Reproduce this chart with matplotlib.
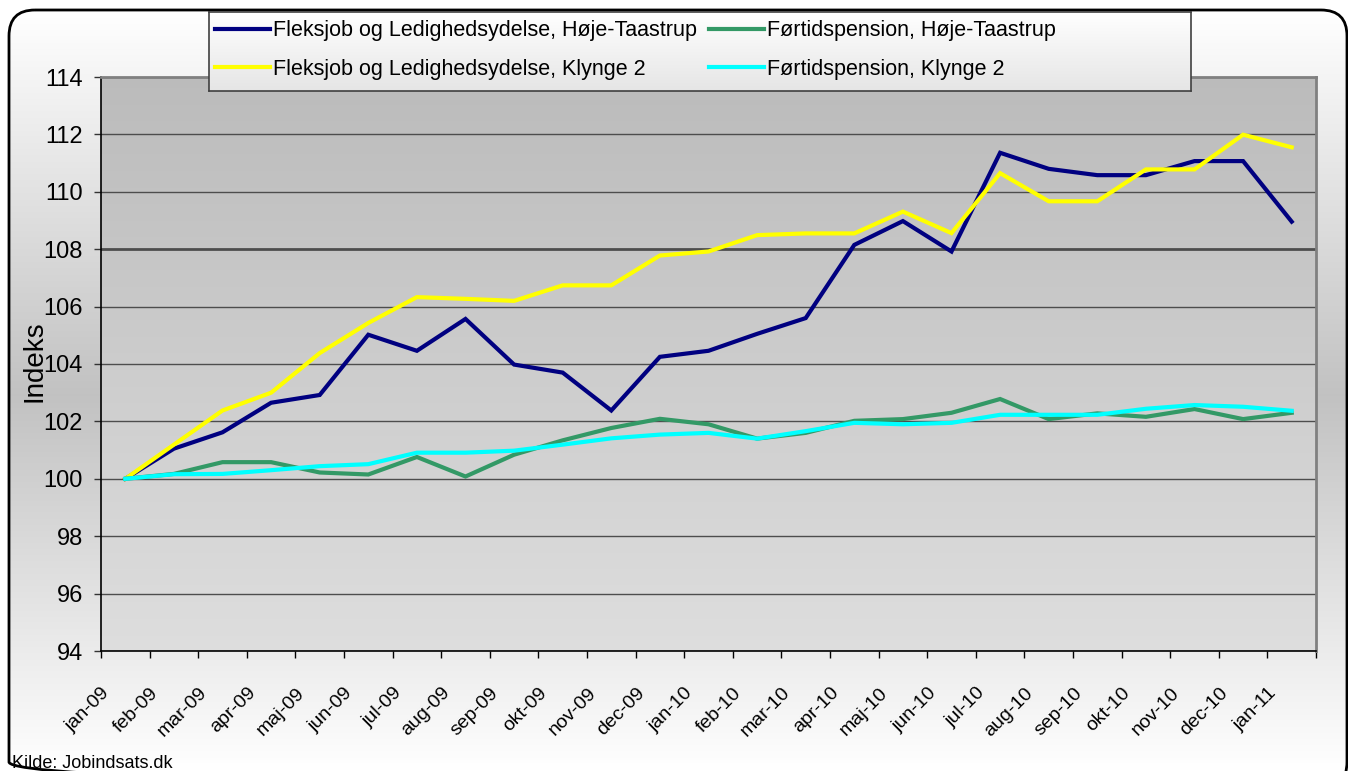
import matplotlib
matplotlib.use('Agg')
import matplotlib.pyplot as plt
import numpy as np
from matplotlib.patches import FancyBboxPatch
from matplotlib.transforms import ScaledTranslation

plt.rcParams['font.family'] = ['Liberation Sans', 'DejaVu Sans']

# Data (index, jan-09 = 100)
months = ['jan-09', 'feb-09', 'mar-09', 'apr-09', 'maj-09', 'jun-09', 'jul-09',
          'aug-09', 'sep-09', 'okt-09', 'nov-09', 'dec-09', 'jan-10', 'feb-10',
          'mar-10', 'apr-10', 'maj-10', 'jun-10', 'jul-10', 'aug-10', 'sep-10',
          'okt-10', 'nov-10', 'dec-10', 'jan-11']
fleks_ht = [100, 101.05, 101.62, 102.65, 102.92, 105.02, 104.46, 105.57, 103.98,
            103.70, 102.38, 104.25, 104.46, 105.05, 105.6, 108.15, 108.98, 107.92,
            111.36, 110.8, 110.58, 110.58, 111.07, 111.07, 108.96]
fleks_k2 = [100, 101.19, 102.38, 103.0, 104.38, 105.43, 106.33, 106.27, 106.2,
            106.74, 106.74, 107.78, 107.92, 108.49, 108.55, 108.55, 109.31, 108.56,
            110.65, 109.67, 109.67, 110.78, 110.78, 111.99, 111.55]
fort_ht = [100, 100.17, 100.58, 100.58, 100.22, 100.15, 100.76, 100.08, 100.84,
           101.34, 101.77, 102.09, 101.9, 101.4, 101.6, 102.02, 102.08, 102.3,
           102.78, 102.08, 102.28, 102.16, 102.43, 102.08, 102.3]
fort_k2 = [100, 100.16, 100.17, 100.3, 100.44, 100.51, 100.91, 100.91, 100.98,
           101.19, 101.41, 101.54, 101.6, 101.4, 101.66, 101.95, 101.9, 101.95,
           102.23, 102.23, 102.23, 102.44, 102.57, 102.51, 102.37]
series_labels = ['Fleksjob og Ledighedsydelse, Høje-Taastrup',
                 'Fleksjob og Ledighedsydelse, Klynge 2',
                 'Førtidspension, Høje-Taastrup',
                 'Førtidspension, Klynge 2']
series_colors = ['#000080', '#FFFF00', '#339966', '#00FFFF']

W, H = 1348, 771
fig = plt.figure(figsize=(W / 100, H / 100), dpi=100)

# figure background: rounded frame with a white-grey-white gradient
bg = fig.add_axes([0, 0, 1, 1], zorder=-10)
rows = np.linspace(0, H, 300)
shade = np.interp(rows, [10, 395, H], [1.0, 0.76, 1.0])
grad = np.dstack([np.tile(shade[:, None], (1, 2))] * 3)
im = bg.imshow(grad, extent=[0, W, H, 0], aspect='auto', zorder=0)
frame = FancyBboxPatch((9, 10), 1338, 778, boxstyle='round,pad=0,rounding_size=26',
                       fc='none', ec='black', lw=2, zorder=2)
bg.add_patch(frame)
im.set_clip_path(frame)
bg.set_xlim(0, W)
bg.set_ylim(H, 0)
bg.axis('off')

# main plot area
ax = fig.add_axes([101 / W, 1 - 651 / H, 1215 / W, 574 / H])
x = np.arange(len(months))
pshade = np.linspace(0.735, 0.87, 200)
pgrad = np.dstack([np.tile(pshade[:, None], (1, 2))] * 3)
ax.imshow(pgrad, extent=[-0.5, len(months) - 0.5, 94, 114], aspect='auto', zorder=0)

handles = []
for vals, col, lab in zip([fleks_ht, fleks_k2, fort_ht, fort_k2], series_colors, series_labels):
    ln, = ax.plot(x, vals, color=col, lw=3, label=lab, zorder=3, solid_joinstyle='miter')
    handles.append(ln)

ax.set_xlim(-0.5, len(months) - 0.5)
ax.set_ylim(94, 114)
ax.set_yticks(range(94, 115, 2))
ax.grid(axis='y', color='#4d4d4d', lw=1, zorder=1)
ax.set_axisbelow(True)
ax.get_ygridlines()[7].set_linewidth(2)

for side in ['top', 'right']:
    ax.spines[side].set_color('#808080')
    ax.spines[side].set_linewidth(2)
for side in ['left', 'bottom']:
    ax.spines[side].set_color('black')
    ax.spines[side].set_linewidth(1.2)

ax.tick_params(axis='y', direction='out', length=5, width=1, color='#333333',
               labelsize=17, pad=8)
ax.set_xticks(x)
ax.set_xticks(np.arange(-0.5, len(months), 1), minor=True)
ax.set_xticklabels(months, rotation=45, ha='right', fontsize=14)
ax.tick_params(axis='x', which='major', length=0, pad=24)
ax.tick_params(axis='x', which='minor', direction='out', length=5, width=1, color='black')
shift = ScaledTranslation(-12 / 100, 0, fig.dpi_scale_trans)
for lbl in ax.get_xticklabels():
    lbl.set_transform(lbl.get_transform() + shift)

ax.set_ylabel('Indeks', fontsize=20)
ax.yaxis.set_label_coords(-0.044, 0.505)

# legend box with its own light gradient
lax = fig.add_axes([209 / W, 1 - 91 / H, 982 / W, 79 / H], zorder=5)
lshade = np.linspace(1.0, 0.9, 100)
lax.imshow(np.dstack([np.tile(lshade[:, None], (1, 2))] * 3), extent=[0, 1, 0, 1],
           aspect='auto')
lax.set_xlim(0, 1)
lax.set_ylim(0, 1)
lax.set_xticks([])
lax.set_yticks([])
for sp in lax.spines.values():
    sp.set_color('#404040')
    sp.set_linewidth(1.2)
lax.legend(handles, series_labels, ncol=2, loc='center left',
           bbox_to_anchor=(215 / W, 1 - 50 / H), bbox_transform=fig.transFigure,
           frameon=False, fontsize=15.5, handlelength=2.55, handletextpad=0.15,
           columnspacing=0.55, labelspacing=0.8, borderpad=0, borderaxespad=0)

fig.text(12 / W, 1 - 768 / H, 'Kilde: Jobindsats.dk', fontsize=13,
         ha='left', va='baseline')

fig.savefig('out.png', dpi=100)
